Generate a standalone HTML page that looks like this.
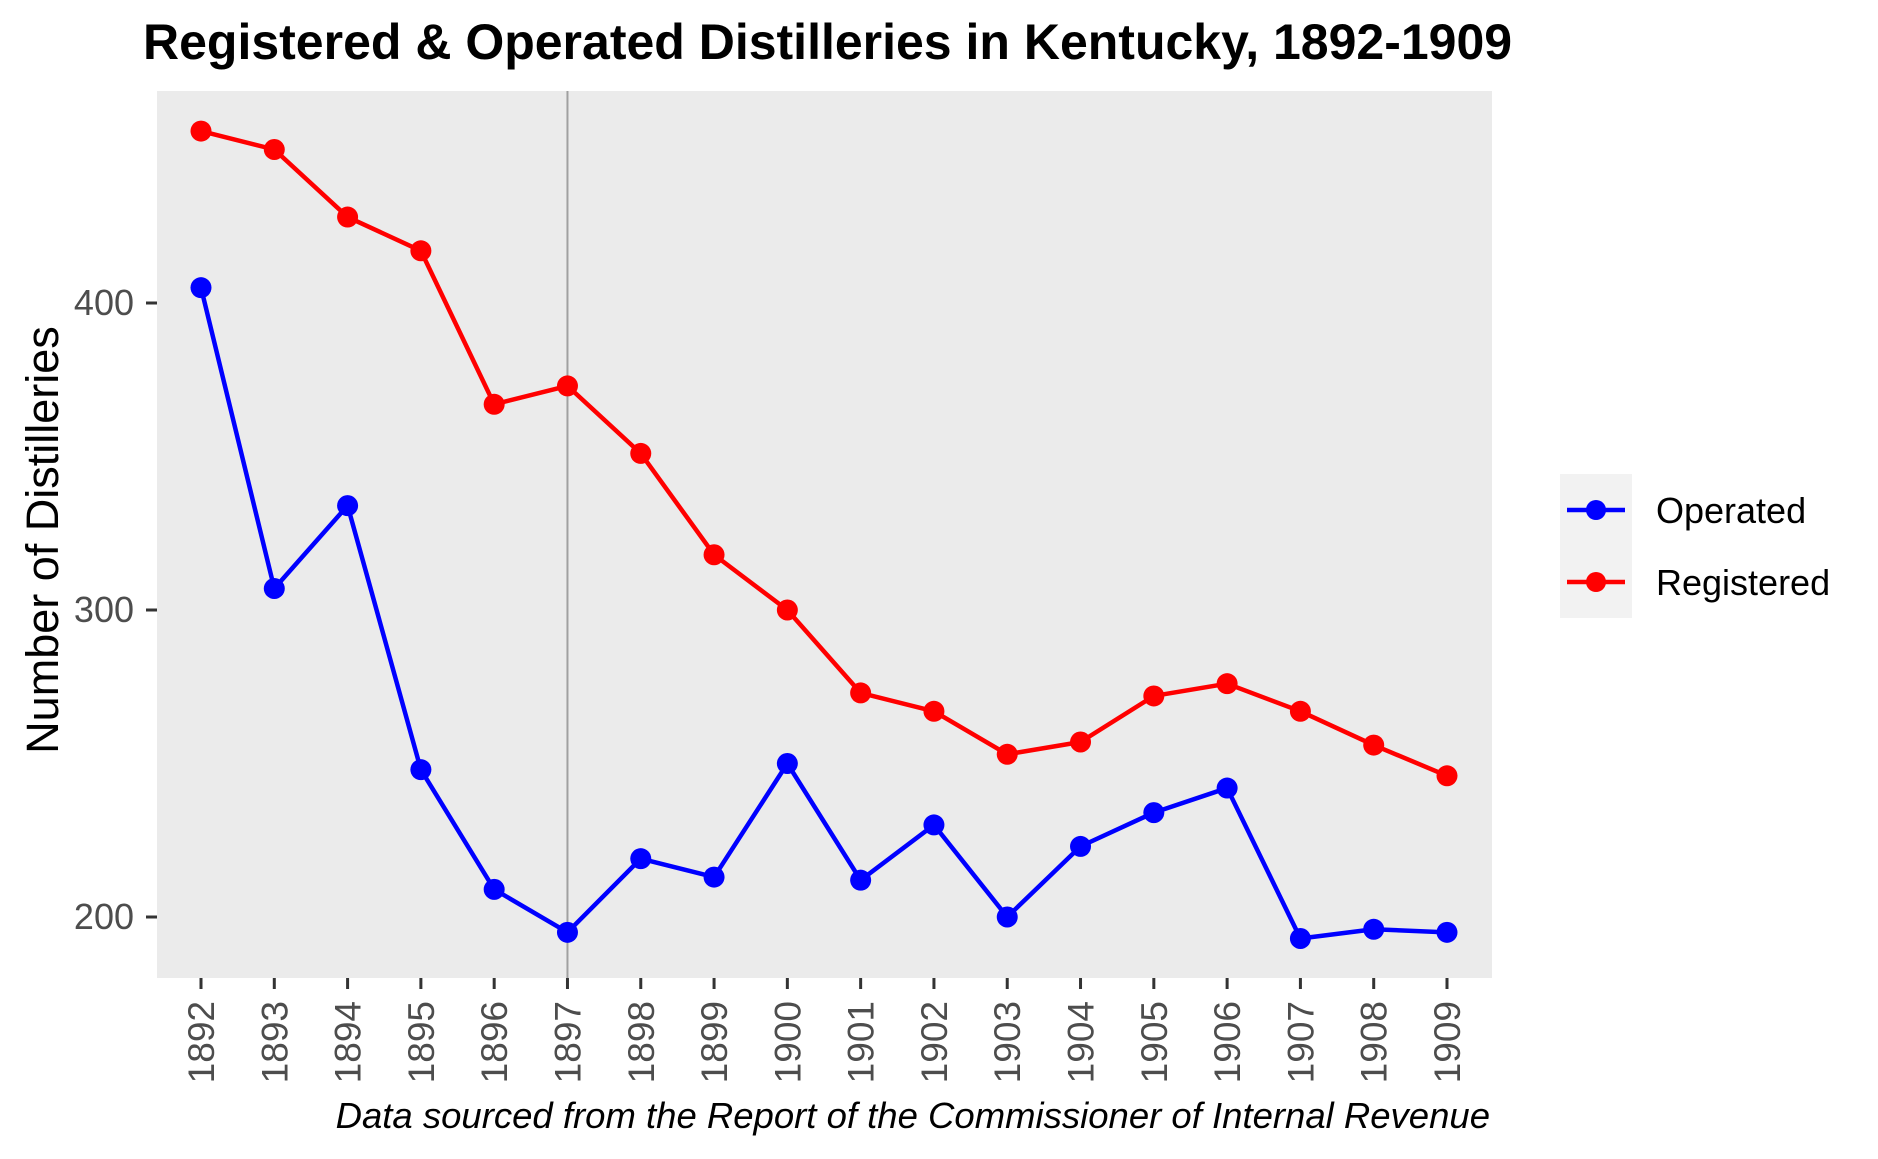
<!DOCTYPE html>
<html><head><meta charset="utf-8"><style>
html,body{margin:0;padding:0;background:#fff;}
svg{display:block;font-family:"Liberation Sans",Arial,sans-serif;}
</style></head><body>
<svg id="chart" width="1878" height="1159" viewBox="0 0 1878 1159">
<text x="143" y="59" font-size="50" font-weight="bold" fill="#000">Registered &amp; Operated Distilleries in Kentucky, 1892-1909</text>
<rect x="157" y="91" width="1335" height="887" fill="#ebebeb"/>
<g id="yaxis"></g>
<g id="xaxis"></g>
<line id="vline" stroke="#a0a0a0" stroke-width="2"/>
<g id="series"></g>
<text transform="translate(58,540) rotate(-90)" text-anchor="middle" font-size="45" fill="#000">Number of Distilleries</text>
<text x="1490" y="1128" text-anchor="end" font-size="36.5" font-style="italic" fill="#000">Data sourced from the Report of the Commissioner of Internal Revenue</text>
<g>
<rect x="1560" y="474" width="72" height="144" fill="#f2f2f2"/>
<line x1="1567" y1="510" x2="1625" y2="510" stroke="#0000ff" stroke-width="4.5"/>
<circle cx="1596" cy="510" r="10" fill="#0000ff"/>
<line x1="1567" y1="582" x2="1625" y2="582" stroke="#ff0000" stroke-width="4.5"/>
<circle cx="1596" cy="582" r="10" fill="#ff0000"/>
<text x="1656" y="523" font-size="36" fill="#000">Operated</text>
<text x="1656" y="595" font-size="36" fill="#000">Registered</text>
</g>
</svg>
<script>
const years = [1892,1893,1894,1895,1896,1897,1898,1899,1900,1901,1902,1903,1904,1905,1906,1907,1908,1909];
const registered = [456,450,428,417,367,373,351,318,300,273,267,253,257,272,276,267,256,246];
const operated = [405,307,334,248,209,195,219,213,250,212,230,200,223,234,242,193,196,195];
const yTicks = [200,300,400];
const markerYear = 1897;

const NS = "http://www.w3.org/2000/svg";
function xPos(year){ return 201 + (year - years[0]) * (1447 - 201) / (years[years.length-1] - years[0]); }
function yPos(v){ return 917 - (v - 200) * (917 - 303) / 200; }
function mk(tag, attrs, parent){ const e=document.createElementNS(NS,tag); for(const k in attrs) e.setAttribute(k,attrs[k]); parent.appendChild(e); return e; }

const yaxis=document.getElementById('yaxis');
yTicks.forEach(t=>{
  const l=mk('line',{x1:146,x2:157,y1:yPos(t),y2:yPos(t),stroke:'#333','stroke-width':3},yaxis);
  
  
  const tx=mk('text',{x:134,y:yPos(t)+12,'text-anchor':'end','font-size':36,fill:'#4d4d4d'},yaxis);
  tx.textContent=t;
  
  
});
const xaxis=document.getElementById('xaxis');
years.forEach(yr=>{
  const x=xPos(yr);
  const l=mk('line',{x1:x,x2:x,y1:978,y2:989,stroke:'#333', 'stroke-width':3},xaxis);
  
  
  const tx=mk('text',{transform:`translate(${x+13},1001) rotate(-90)`,'text-anchor':'end','font-size':37,fill:'#4d4d4d'},xaxis);
  tx.textContent=yr;
  
  
});
const vl=document.getElementById('vline');
vl.setAttribute('x1',xPos(markerYear)); vl.setAttribute('x2',xPos(markerYear));
vl.setAttribute('y1',91); vl.setAttribute('y2',978);

const sg=document.getElementById('series');
function drawSeries(vals,color,name){
  const pts=vals.map((v,i)=>xPos(years[i])+','+yPos(v)).join(' ');
  const pl=mk('polyline',{points:pts,fill:'none',stroke:color,'stroke-width':4.5,'stroke-linejoin':'round'},sg);
  
  
  vals.forEach((v,i)=>{
    const c=mk('circle',{cx:xPos(years[i]),cy:yPos(v),r:10.5,fill:color},sg);
    
    
  });
}
drawSeries(registered,'#ff0000','registered');
drawSeries(operated,'#0000ff','operated');
</script>
</body></html>
